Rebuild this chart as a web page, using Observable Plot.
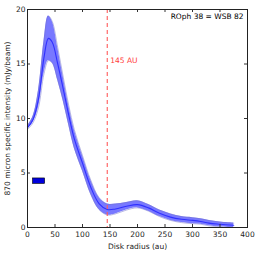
<!DOCTYPE html>
<html><head><meta charset="utf-8">
<script src="https://cdn.jsdelivr.net/npm/d3@7"></script>
<script src="https://cdn.jsdelivr.net/npm/@observablehq/plot@0.6"></script>
<style>body{margin:0;background:#fff}</style>
</head><body><div id="chart"></div>
<script>
const radius = [0,10,20,30,38,45,55,65,75,85,100,115,130,145,160,180,200,220,240,260,280,300,315,330,350,375];
const mid = [9.15,9.9,11.8,15.6,17.35,17.0,15.0,12.7,10.3,8.15,5.9,3.7,2.2,1.65,1.7,1.95,2.1,1.8,1.3,0.95,0.75,0.65,0.55,0.4,0.3,0.2];
const hi  = [9.3,10.2,12.6,17.1,19.4,18.9,16.5,13.8,11.2,9.0,6.6,4.35,2.75,2.15,2.15,2.3,2.45,2.1,1.6,1.25,1.0,0.9,0.8,0.65,0.5,0.4];
const lo  = [9.0,9.6,11.0,14.1,15.3,15.1,13.5,11.6,9.4,7.3,5.2,3.05,1.65,1.15,1.25,1.6,1.8,1.5,1.0,0.65,0.45,0.35,0.3,0.15,0.05,0.0];
const xticks = [0,50,100,150,200,250,300,350,400];
const yticks = [0,5,10,15,20];
const gapRadius = [145];
const beamX = [10,32];
const beamY = [4.0,4.5];
const title = "ROph 38 = WSB 82";
const gapLabel = "145 AU";
const xLabel = "Disk radius (au)";
const yLabel = "870 micron specific intensity (mJy/beam)";

const data = radius.map((r,i)=>({r, mid: mid[i], hi: hi[i], lo: lo[i]}));
const curve = "catmull-rom";

const chart = Plot.plot({
  width: 258, height: 254,
  marginLeft: 27, marginRight: 11, marginTop: 9, marginBottom: 27,
  style: {fontFamily: "DejaVu Sans", fontSize: "7.5px", background: "#fff"},
  x: {domain: [0,400], axis: null},
  y: {domain: [0,20], axis: null},
  marks: [
    Plot.areaY(data, {x: "r", y1: "lo", y2: "hi", fill: "#7878ff", curve}),
    Plot.line(data, {x: "r", y: "hi", stroke: "#7474c8", strokeWidth: 0.5, curve}),
    Plot.line(data, {x: "r", y: "lo", stroke: "#7474c8", strokeWidth: 0.5, curve}),
    Plot.line(data, {x: "r", y: "mid", stroke: "#3030ff", strokeWidth: 1.1, curve}),
    Plot.ruleX(gapRadius, {x: d=>d, stroke: "#ff5a5a", strokeWidth: 1.1, strokeDasharray: "4,3"}),
    Plot.rect([{x1: beamX[0], x2: beamX[1], y1: beamY[0], y2: beamY[1]}], {x1: "x1", x2: "x2", y1: "y1", y2: "y2", fill: "#0000dd", stroke: "#000", strokeWidth: 0.6}),
    Plot.text([gapLabel], {x: gapRadius[0], y: 15.3, text: d=>d, dx: 3, textAnchor: "start", fill: "#ff4040", fontSize: 7.5}),
    Plot.text([title], {frameAnchor: "top-right", text: d=>d, dx: -4, dy: 4, fill: "#000"}),
    Plot.ruleX(xticks, {x: d=>d, insetTop: 215, stroke: "#333"}),
    Plot.ruleX(xticks, {x: d=>d, insetBottom: 215, stroke: "#333"}),
    Plot.ruleY(yticks, {y: d=>d, insetRight: 217, stroke: "#333"}),
    Plot.ruleY(yticks, {y: d=>d, insetLeft: 217, stroke: "#333"}),
    Plot.text(xticks, {x: d=>d, text: d=>String(d), frameAnchor: "bottom", dy: 7, lineAnchor: "middle", fill: "#222"}),
    Plot.text(yticks, {y: d=>d, text: d=>String(d), frameAnchor: "left", dx: -2, textAnchor: "end", fill: "#222"}),
    Plot.text([xLabel], {frameAnchor: "bottom", text: d=>d, dy: 19, lineAnchor: "middle", fill: "#222"}),
    Plot.text([yLabel], {frameAnchor: "left", text: d=>d, dx: -20, rotate: -90, textAnchor: "middle", lineAnchor: "middle", fill: "#222"}),
    Plot.frame({stroke: "#222", strokeWidth: 1})
  ]
});
document.getElementById("chart").appendChild(chart);
</script>
</body></html>
